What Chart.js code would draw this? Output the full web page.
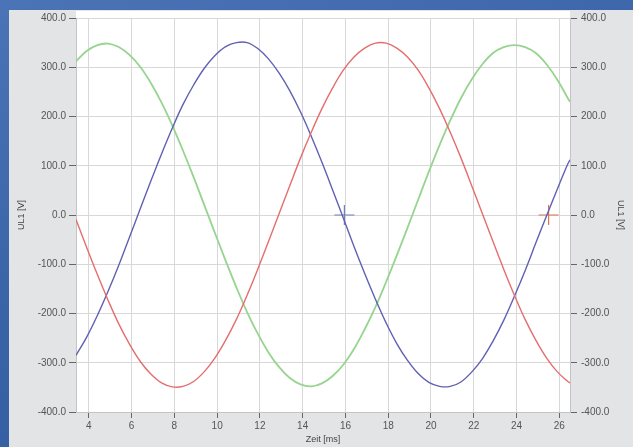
<!DOCTYPE html>
<html>
<head>
<meta charset="utf-8">
<script src="https://cdn.jsdelivr.net/npm/chart.js@4/dist/chart.umd.min.js"></script>
<style>
  html, body { margin: 0; padding: 0; }
  body {
    width: 633px; height: 447px; overflow: hidden;
    background: linear-gradient(160deg, #4a74b6 0%, #3a64a8 45%, #2f5a9f 100%);
    position: relative;
  }
  #panel {
    position: absolute; left: 9px; top: 10px; right: 0; bottom: 0;
    background: #e3e4e6;
  }
  #wrap { position: absolute; left: 0; top: 0; width: 633px; height: 447px; }
</style>
</head>
<body>
<div id="panel"></div>
<div id="wrap"><canvas id="chart" width="633" height="447"></canvas></div>
<script>
// time axis in ms
const timeMs = [3.4, 3.9, 4.4, 4.9, 5.4, 5.9, 6.4, 6.9, 7.4, 7.9, 8.4, 8.9, 9.4, 9.9,
  10.4, 10.9, 11.4, 11.9, 12.4, 12.9, 13.4, 13.9, 14.4, 14.9, 15.4, 15.9, 16.4, 16.9,
  17.4, 17.9, 18.4, 18.9, 19.4, 19.9, 20.4, 20.9, 21.4, 21.9, 22.4, 22.9, 23.4, 23.9,
  24.4, 24.9, 25.4, 25.9, 26.4, 26.5];

const redV = [-9, -66, -121, -173, -221, -262, -297, -323, -341, -349, -348, -338, -318, -290,
  -254, -212, -163, -110, -54, 3, 60, 116, 168, 216, 258, 294, 321, 339,
  349, 349, 339, 321, 294, 258, 216, 168, 116, 60, 3, -54, -110, -163,
  -212, -254, -290, -318, -338, -341];

const blueV = [-285, -248, -204, -155, -102, -45, 12, 69, 124, 176, 224, 264, 298, 324,
  342, 350, 350, 338, 317, 288, 252, 209, 160, 107, 51, -6, -64, -119,
  -171, -219, -261, -295, -322, -340, -348, -348, -339, -319, -292, -256, -214, -165,
  -113, -57, -2, 52, 104, 112];

const greenV = [312, 333, 345, 348, 341, 325, 301, 268, 228, 182, 131, 77, 20, -37,
  -93, -147, -197, -241, -279, -309, -331, -344, -348, -342, -327, -304, -272, -232,
  -187, -136, -82, -26, 31, 88, 142, 192, 237, 275, 306, 329, 341, 345,
  341, 329, 306, 275, 237, 230];

const markerX = [15.95, 25.5];
const markerY = [0, 0];
const markerColors = ["#6f7fb8", "#e0705a"];

const xTicks = [4, 6, 8, 10, 12, 14, 16, 18, 20, 22, 24, 26];

function series(values) {
  return values.map((v, i) => ({ x: timeMs[i], y: v }));
}

// white plot background, a bit taller than the axis range at the top
const plotBg = {
  id: "plotBg",
  beforeDraw(chart) {
    const { ctx, chartArea } = chart;
    ctx.save();
    ctx.fillStyle = "#ffffff";
    ctx.fillRect(chartArea.left, chartArea.top - 7, chartArea.right - chartArea.left, chartArea.bottom - chartArea.top + 8);
    ctx.restore();
  },
};

const font = { family: "'Liberation Sans', Arial, sans-serif", size: 10 };

new Chart(document.getElementById("chart"), {
  type: "scatter",
  data: {
    datasets: [
      {
        label: "L1",
        data: series(redV),
        showLine: true,
        borderColor: "rgb(228,110,110)",
        borderWidth: 1.4,
        pointRadius: 0,
        tension: 0.4,
      },
      {
        label: "L2",
        data: series(blueV),
        showLine: true,
        borderColor: "rgb(96,96,180)",
        borderWidth: 1.4,
        pointRadius: 0,
        tension: 0.4,
      },
      {
        label: "L3",
        data: series(greenV),
        showLine: true,
        borderColor: "rgb(150,212,144)",
        borderWidth: 1.8,
        pointRadius: 0,
        tension: 0.4,
      },
      {
        label: "Cursor",
        data: markerX.map((x, i) => ({ x, y: markerY[i] })),
        showLine: false,
        pointStyle: "cross",
        pointRadius: 10,
        pointBorderWidth: 1.2,
        pointBorderColor: markerColors,
        pointBackgroundColor: markerColors,
      },
    ],
  },
  options: {
    responsive: false,
    animation: false,
    layout: { padding: { left: 9, top: 18, right: 0, bottom: 0 } },
    plugins: {
      legend: { display: false },
      tooltip: { enabled: false },
    },
    scales: {
      x: {
        type: "linear",
        min: 3.4,
        max: 26.5,
        afterBuildTicks: (axis) => { axis.ticks = xTicks.map(v => ({ value: v })); },
        afterFit: (axis) => { axis.height = 35; },
        ticks: { color: "#555", font, padding: 2, maxRotation: 0 },
        grid: { color: "#d8d8d8", tickColor: "#666", tickLength: 6, drawTicks: true },
        border: { color: "#c4c4c4" },
        title: { display: true, text: "Zeit [ms]", color: "#444", font: { ...font, size: 9 }, padding: { top: 0, bottom: 2 } },
      },
      y: {
        position: "left",
        min: -400,
        max: 400,
        afterFit: (axis) => { axis.width = 67; },
        ticks: { stepSize: 100, color: "#555", font, padding: 3, callback: v => v.toFixed(1) },
        grid: { color: "#d8d8d8", tickColor: "#666", tickLength: 7 },
        border: { color: "#c4c4c4" },
        title: { display: true, text: "UL1 [V]", color: "#444", font: { ...font, size: 9 }, padding: { top: 7, bottom: 0 } },
      },
      y2: {
        position: "right",
        min: -400,
        max: 400,
        afterFit: (axis) => { axis.width = 63; },
        ticks: { stepSize: 100, color: "#555", font, padding: 4, callback: v => v.toFixed(1) },
        grid: { drawOnChartArea: false, tickColor: "#666", tickLength: 7 },
        border: { color: "#c4c4c4" },
        title: { display: true, text: "UL1 [V]", color: "#444", font: { ...font, size: 9 }, padding: { top: 7, bottom: 0 } },
      },
    },
  },
  plugins: [plotBg],
});
</script>
</body>
</html>
